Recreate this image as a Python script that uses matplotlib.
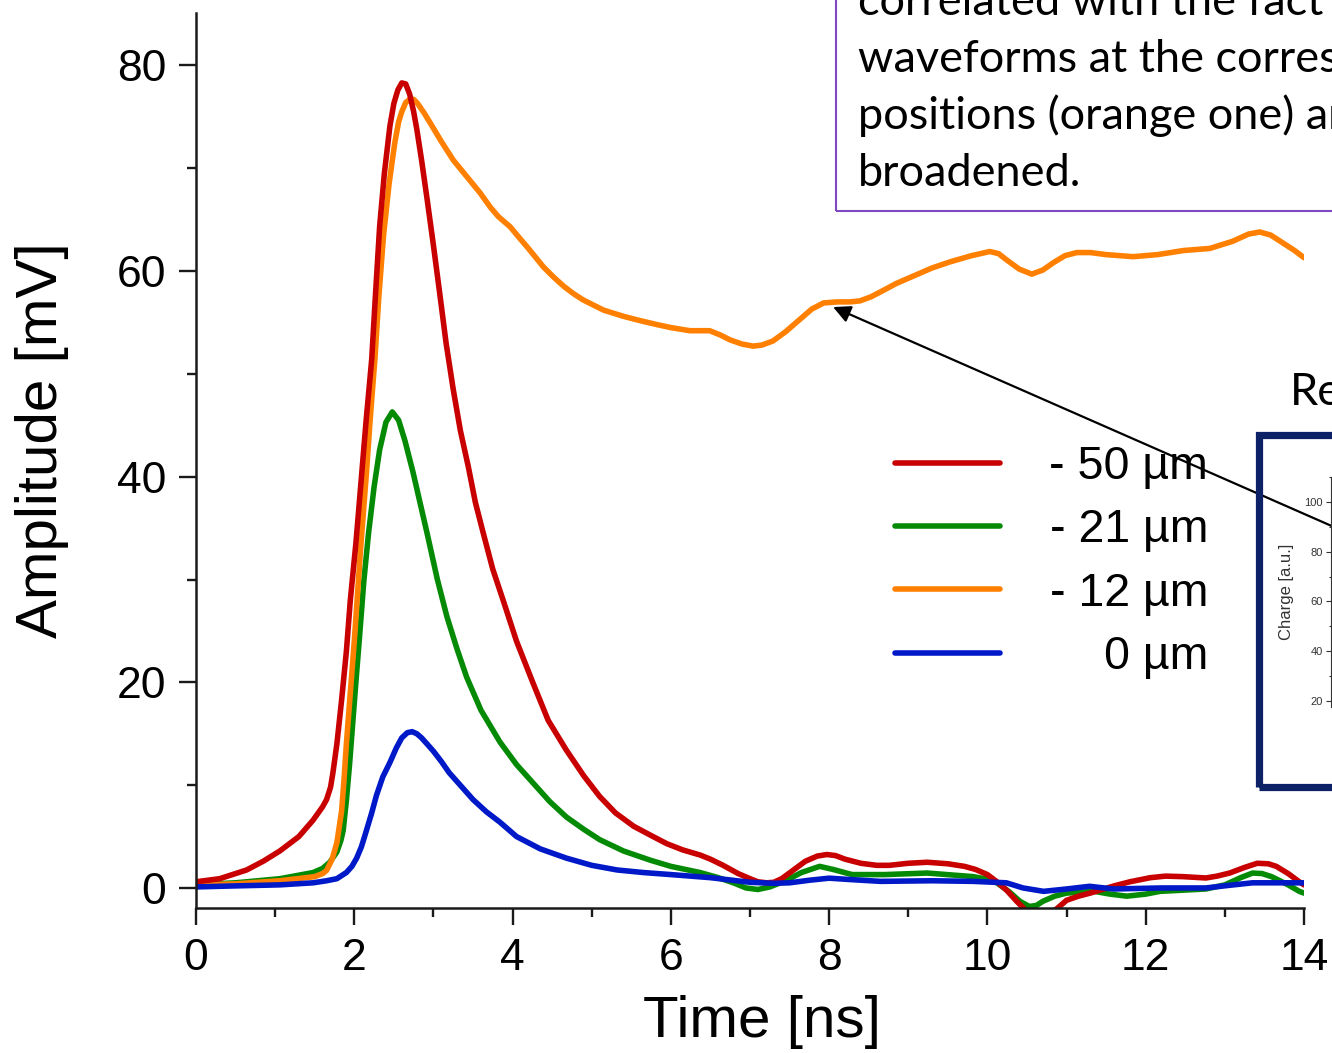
import matplotlib
matplotlib.use("Agg")
import matplotlib.pyplot as plt
from matplotlib.patches import Rectangle
from matplotlib.ticker import MultipleLocator

# waveform samples: time [ns] and amplitude [mV]
t_red = [0, 0.3, 0.64, 0.85, 1.06, 1.3, 1.48, 1.6, 1.65, 1.7, 1.73, 1.78, 1.84, 1.90, 1.95, 2.02,
         2.08, 2.15, 2.22, 2.27, 2.32, 2.38, 2.45, 2.50, 2.55, 2.60, 2.65, 2.70, 2.75, 2.79, 2.85,
         2.92, 3.0, 3.08, 3.16, 3.25, 3.34, 3.44, 3.53, 3.63, 3.75, 3.88, 4.05, 4.26, 4.45, 4.68,
         4.9, 5.10, 5.3, 5.53, 5.75, 5.95, 6.15, 6.37, 6.5, 6.66, 6.85, 7.0, 7.1, 7.21, 7.3, 7.4,
         7.55, 7.7, 7.85, 7.97, 8.08, 8.2, 8.4, 8.6, 8.76, 9.0, 9.24, 9.5, 9.71, 9.85, 10.0, 10.12,
         10.24, 10.37, 10.5, 10.62, 10.75, 10.88, 11.0, 11.15, 11.3, 11.45, 11.6, 11.8, 12.06,
         12.25, 12.47, 12.76, 12.9, 13.06, 13.25, 13.41, 13.55, 13.65, 13.8, 13.94, 14.0]
v_red = [0.6, 0.9, 1.75, 2.6, 3.6, 5.0, 6.6, 7.9, 8.6, 9.8, 11.2, 14.0, 18.3, 23.0, 28.0, 33.5,
         39.0, 45.5, 51.4, 58.0, 64.3, 69.5, 74.1, 76.3, 77.6, 78.3, 78.2, 77.2, 75.5, 73.8, 70.8,
         67.0, 62.5, 57.8, 53.0, 48.5, 44.5, 41.0, 37.5, 34.5, 31.0, 28.0, 24.0, 19.9, 16.3, 13.4,
         10.9, 8.9, 7.3, 6.0, 5.1, 4.3, 3.7, 3.2, 2.8, 2.2, 1.4, 0.9, 0.6, 0.5, 0.55, 0.9,
         1.75, 2.6, 3.1, 3.25, 3.15, 2.8, 2.4, 2.2, 2.2, 2.4, 2.5, 2.35, 2.1, 1.8, 1.3, 0.6,
         -0.2, -1.3, -2.3, -2.8, -2.8, -2.0, -1.2, -0.8, -0.5, -0.15, 0.2, 0.6, 1.0,
         1.15, 1.1, 0.97, 1.15, 1.45, 2.0, 2.4, 2.35, 2.1, 1.4, 0.6, 0.3]

t_green = [0, 0.5, 1.06, 1.48, 1.6, 1.69, 1.78, 1.83, 1.86, 1.9, 1.94, 1.97, 2.02, 2.07, 2.12, 2.18,
           2.25, 2.32, 2.40, 2.48, 2.56, 2.64, 2.74, 2.83, 2.92, 3.05, 3.17, 3.3, 3.42, 3.6, 3.84,
           4.05, 4.26, 4.47, 4.68, 4.9, 5.10, 5.4, 5.74, 6.0, 6.37, 6.6, 6.79, 6.95, 7.1, 7.25,
           7.45, 7.65, 7.88, 8.05, 8.29, 8.7, 9.24, 9.82, 10.0, 10.12, 10.28, 10.41, 10.53, 10.62,
           10.7, 10.85, 11.0, 11.35, 11.55, 11.76, 12.0, 12.18, 12.76, 13.0, 13.2, 13.35, 13.47,
           13.59, 13.8, 13.94, 14.0]
v_green = [0.3, 0.5, 0.9, 1.5, 1.9, 2.5, 3.5, 4.6, 5.6, 8.5, 12.0, 15.0, 20.0, 24.8, 29.8, 34.5,
           39.0, 42.6, 45.3, 46.3, 45.5, 43.5, 40.5, 37.5, 34.5, 30.0, 26.4, 23.2, 20.5, 17.3, 14.2,
           12.0, 10.2, 8.4, 6.9, 5.7, 4.7, 3.6, 2.7, 2.1, 1.5, 1.0, 0.5, 0.0, -0.15, 0.1,
           0.7, 1.5, 2.1, 1.8, 1.3, 1.3, 1.45, 1.1, 0.85, 0.5, -0.4, -1.3, -1.8, -1.7,
           -1.3, -0.8, -0.5, -0.33, -0.6, -0.8, -0.6, -0.33, -0.1, 0.3, 1.0, 1.45, 1.4,
           1.1, 0.3, -0.33, -0.5]

t_orange = [0, 0.5, 1.06, 1.5, 1.6, 1.65, 1.72, 1.78, 1.84, 1.87, 1.90, 1.95, 2.0, 2.04, 2.08, 2.15,
            2.2, 2.26, 2.31, 2.37, 2.44, 2.51, 2.56, 2.6, 2.65, 2.70, 2.75, 2.8, 2.88, 2.96, 3.1,
            3.25, 3.42, 3.59, 3.72, 3.82, 3.97, 4.1, 4.2, 4.39, 4.52, 4.65, 4.77, 4.89, 5.15, 5.40,
            5.6, 5.82, 6.0, 6.24, 6.49, 6.62, 6.75, 6.9, 7.04, 7.15, 7.29, 7.45, 7.63, 7.78, 7.93,
            8.1, 8.26, 8.39, 8.53, 8.68, 8.85, 9.06, 9.3, 9.53, 9.8, 10.03, 10.14, 10.24, 10.4,
            10.56, 10.7, 10.83, 10.98, 11.13, 11.3, 11.5, 11.84, 12.15, 12.48, 12.81, 13.1, 13.3,
            13.44, 13.58, 13.74, 13.88, 14.0]
v_orange = [0.3, 0.4, 0.7, 1.1, 1.4, 1.7, 2.8, 4.4, 7.5, 10.5, 14.0, 19.0, 24.0, 28.5, 33.0, 40.0,
            45.5, 51.4, 57.5, 63.5, 68.5, 72.4, 74.5, 75.5, 76.4, 76.7, 76.7, 76.3, 75.4, 74.4, 72.6,
            70.8, 69.2, 67.6, 66.2, 65.3, 64.3, 63.1, 62.2, 60.4, 59.4, 58.5, 57.8, 57.2, 56.2, 55.6,
            55.2, 54.8, 54.5, 54.2, 54.2, 53.8, 53.3, 52.9, 52.7, 52.8, 53.2, 54.1, 55.3, 56.3, 56.9,
            57.0, 57.0, 57.1, 57.5, 58.1, 58.8, 59.5, 60.3, 60.9, 61.5, 61.9, 61.7, 61.1, 60.2,
            59.7, 60.1, 60.8, 61.5, 61.8, 61.8, 61.6, 61.4, 61.6, 62.0, 62.2, 62.9, 63.6,
            63.8, 63.5, 62.7, 62.0, 61.3]

t_blue = [0, 0.5, 1.06, 1.48, 1.65, 1.78, 1.9, 1.97, 2.03, 2.09, 2.15, 2.22, 2.28, 2.36, 2.45, 2.53,
          2.6, 2.67, 2.73, 2.79, 2.85, 2.92, 3.0, 3.1, 3.2, 3.35, 3.5, 3.67, 3.84, 4.05, 4.35,
          4.68, 5.0, 5.32, 5.65, 6.0, 6.5, 7.0, 7.3, 7.5, 7.75, 8.0, 8.3, 8.65, 9.3, 9.82, 10.24,
          10.45, 10.71, 11.0, 11.29, 11.59, 12.2, 12.76, 13.05, 13.35, 13.94, 14.0]
v_blue = [0.1, 0.2, 0.3, 0.5, 0.7, 0.9, 1.5, 2.1, 2.9, 4.0, 5.5, 7.3, 9.0, 10.8, 12.2, 13.6,
          14.6, 15.1, 15.2, 15.0, 14.6, 14.0, 13.3, 12.3, 11.2, 9.9, 8.6, 7.4, 6.4, 5.0, 3.8,
          2.9, 2.2, 1.75, 1.5, 1.3, 1.0, 0.55, 0.45, 0.5, 0.75, 0.95, 0.8, 0.64, 0.7, 0.64, 0.5,
          0.0, -0.33, -0.1, 0.16, -0.1, 0.0, 0.0, 0.25, 0.5, 0.5, 0.5]

labels = ["- 50 \u00b5m", "- 21 \u00b5m", "- 12 \u00b5m", "0 \u00b5m"]
colors = ["#c80000", "#058a05", "#ff8000", "#0019c8"]

note_lines = ["correlated with the fact that the",
              "waveforms at the corresponding",
              "positions (orange one) are",
              "broadened."]

plt.rcParams['font.family'] = ['Liberation Sans', 'DejaVu Sans']

W, H = 1332, 1053
fig = plt.figure(figsize=(W / 100, H / 100), dpi=100)
ax = fig.add_axes([196 / W, (H - 908) / H, 1108 / W, 895 / H])

kw = dict(lw=4.0, solid_capstyle='round', solid_joinstyle='round')
l_green, = ax.plot(t_green, v_green, color=colors[1], **kw)
l_orange, = ax.plot(t_orange, v_orange, color=colors[2], **kw)
l_red, = ax.plot(t_red, v_red, color=colors[0], **kw)
l_blue, = ax.plot(t_blue, v_blue, color=colors[3], **kw)

ax.set_xlim(0, 14)
ax.set_ylim(-1.95, 85.1)
ax.xaxis.set_major_locator(MultipleLocator(2))
ax.xaxis.set_minor_locator(MultipleLocator(1))
ax.yaxis.set_major_locator(MultipleLocator(20))
ax.yaxis.set_minor_locator(MultipleLocator(10))
for side in ['top', 'right']:
    ax.spines[side].set_visible(False)
for side in ['left', 'bottom']:
    ax.spines[side].set_linewidth(1.8)
    ax.spines[side].set_color('#1a1a1a')
ax.tick_params(which='major', direction='out', length=12.5, width=1.7, color='#1a1a1a',
               labelsize=32, pad=9)
ax.tick_params(which='minor', direction='out', length=6.5, width=1.7, color='#1a1a1a')

ax.set_xlabel("Time [ns]", fontsize=42, va='center')
ax.xaxis.set_label_coords((762 - 196) / 1108, (908 - 1022) / 895)
ax.set_ylabel("Amplitude [mV]", fontsize=42, va='center')
ax.yaxis.set_label_coords((42 - 196) / 1108, (908 - 440) / 895)

leg = ax.legend([l_red, l_green, l_orange, l_blue], labels, loc='upper left',
                bbox_to_anchor=(895 / W, 1 - 445 / H), bbox_transform=fig.transFigure,
                frameon=False, fontsize=33.5, handlelength=2.25, handletextpad=1.07,
                labelspacing=0.415, borderpad=0, borderaxespad=0)
fig.canvas.draw()
renderer = fig.canvas.get_renderer()
widths = [tx.get_window_extent(renderer).width for tx in leg.get_texts()]
for tx, w in zip(leg.get_texts(), widths):
    tx.set_position((max(widths) - w, 0))

# arrow pointing at the orange waveform
ax.annotate('', xy=(8.05, 56.5), xycoords='data', xytext=(1400, H - 556),
            textcoords='figure pixels', annotation_clip=False, zorder=10,
            arrowprops=dict(arrowstyle='-|>', color='black', lw=1.6, mutation_scale=26,
                            shrinkA=0, shrinkB=0))

# text box in the upper right
fig.add_artist(Rectangle((836 / W, 1 - 211 / H), 600 / W, 300 / H, transform=fig.transFigure,
                         fill=False, edgecolor='#8048c0', lw=1.5))
for i, line in enumerate(note_lines):
    fig.text(858 / W, 1 - (15 + 57 * i) / H, line, family=['Lato', 'DejaVu Sans'],
             fontsize=32.5, va='baseline', ha='left')

fig.text(1290 / W, 1 - 405 / H, "Results", family=['Lato', 'DejaVu Sans'], fontsize=32.5,
         va='baseline', ha='left')

# inset chart at the right edge
fig.add_artist(Rectangle((1258.5 / W, 1 - 787 / H), 200 / W, 352 / H, transform=fig.transFigure,
                         fill=False, edgecolor='#0d2266', lw=5.2))
ax2 = fig.add_axes([1330.7 / W, (H - 706.7) / H, 0.3, 230 / H])
ax2.patch.set_alpha(0)
ax2.set_ylim(17.6, 110.2)
ax2.yaxis.set_major_locator(MultipleLocator(20))
ax2.yaxis.set_minor_locator(MultipleLocator(10))
ax2.set_xticks([])
for side in ['top', 'right', 'bottom']:
    ax2.spines[side].set_visible(False)
ax2.spines['left'].set_linewidth(0.8)
ax2.spines['left'].set_color('#333333')
ax2.tick_params(which='major', length=3.5, width=0.8, labelsize=8, pad=2, colors='#333333')
ax2.tick_params(which='minor', length=1.8, width=0.8, colors='#333333')
ax2.set_ylabel("Charge [a.u.]", fontsize=12, color='#333333', va='center')
ax2.yaxis.set_label_coords(-(1330.7 - 1287) / (0.3 * W), 0.5)

fig.savefig("out.png", dpi=100)
